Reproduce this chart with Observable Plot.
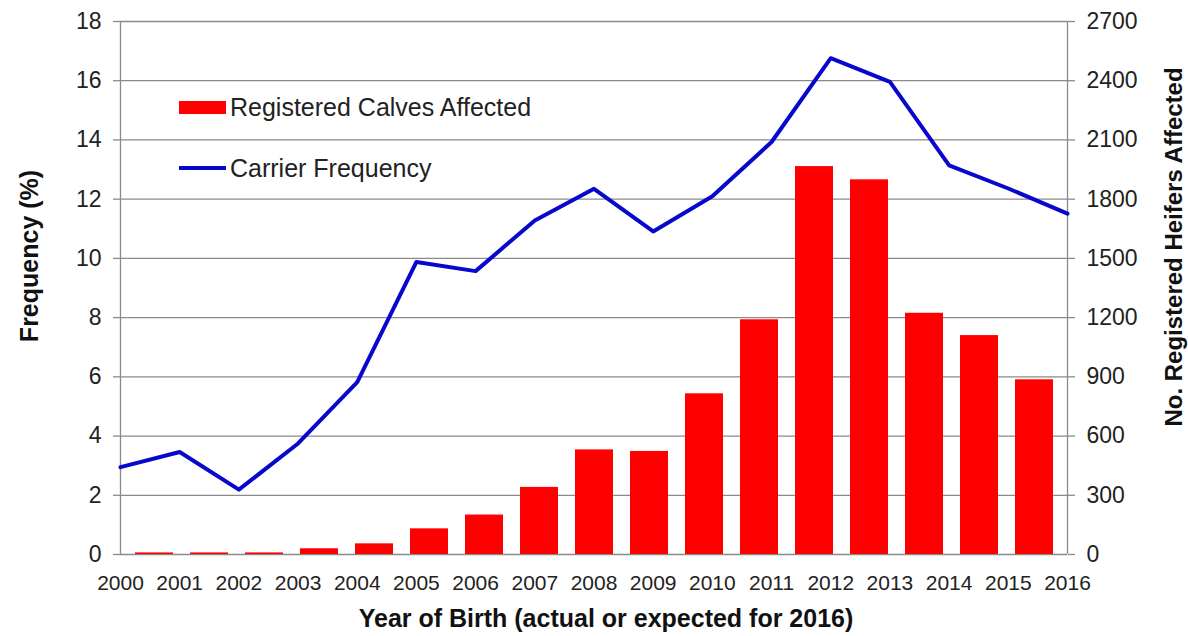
<!DOCTYPE html>
<html>
<head>
<meta charset="utf-8">
<script src="https://cdn.jsdelivr.net/npm/d3@7"></script>
<script src="https://cdn.jsdelivr.net/npm/@observablehq/plot@0.6"></script>
<style>
  body { margin: 0; background: #fff; }
  #chart { position: relative; width: 1188px; height: 636px; font-family: "Liberation Sans", Arial, sans-serif; overflow: hidden; }
  #chart svg { position: absolute; left: 0; top: 0; }
  .legend-item { position: absolute; display: flex; align-items: center; font-size: 25px; color: #222; white-space: nowrap; }
  .title { position: absolute; font-weight: bold; font-size: 25px; line-height: 1; color: #111; white-space: nowrap; transform: translate(-50%, -50%); }
  .title.rot { transform: translate(-50%, -50%) rotate(-90deg); }
</style>
</head>
<body>
<div id="chart"></div>
<script>
// Year of birth
const years = [2000, 2001, 2002, 2003, 2004, 2005, 2006, 2007, 2008,
               2009, 2010, 2011, 2012, 2013, 2014, 2015, 2016];
// Registered heifers affected (right axis)
const heifers = [8, 8, 8, 29, 54, 130, 200, 340, 530,
                 522, 814, 1189, 1965, 1898, 1222, 1109, 885];
// Carrier frequency, % (left axis)
const carrier = [2.95, 3.46, 2.19, 3.75, 5.82, 9.88, 9.57, 11.28, 12.35,
                 10.91, 12.1, 13.93, 16.76, 15.96, 13.14, 12.36, 11.51];
// Axis ticks
const freqTicks = [0, 2, 4, 6, 8, 10, 12, 14, 16, 18];
const heiferTicks = [0, 300, 600, 900, 1200, 1500, 1800, 2100, 2400, 2700];

const rows = years.map((year, i) => ({year, heifers: heifers[i], carrier: carrier[i]}));

const frame = {
  width: 1188, height: 636,
  marginLeft: 120, marginRight: 121, marginTop: 21, marginBottom: 82
};
const font = "'Liberation Sans', Arial, sans-serif";
const grid = "#8a8a8a";

// Bars: one band per birth year, measured on the right-hand axis
const bars = Plot.plot({
  ...frame,
  style: {fontFamily: font, fontSize: "23px", color: "#222", background: "transparent"},
  x: {type: "band", domain: years, paddingInner: 0.31, paddingOuter: 0.155, axis: null},
  y: {domain: [0, 2700], axis: null},
  marks: [
    Plot.gridY(heiferTicks, {stroke: grid, strokeOpacity: 1, strokeWidth: 1.3}),
    Plot.barY(rows, {x: "year", y: "heifers", fill: "#ff0000"}),
    Plot.axisY(heiferTicks, {anchor: "right", tickSize: 7, tickPadding: 12, label: null,
      tickFormat: d => String(d),
      stroke: grid, strokeOpacity: 1, strokeWidth: 1.3, fill: "#222", fontSize: 23})
  ]
});

// Carrier frequency line on a continuous year axis, measured on the left-hand axis
const line = Plot.plot({
  ...frame,
  style: {fontFamily: font, fontSize: "23px", color: "#222", background: "transparent"},
  x: {domain: [2000, 2016], axis: null},
  y: {domain: [0, 18], axis: null},
  marks: [
    Plot.ruleX([2000, 2016], {stroke: grid, strokeWidth: 1.3}),
    Plot.line(rows, {x: "year", y: "carrier", stroke: "#0808cc", strokeWidth: 4, strokeLinejoin: "round"}),
    Plot.axisY(freqTicks, {anchor: "left", tickSize: 7, tickPadding: 12, label: null,
      stroke: grid, strokeOpacity: 1, strokeWidth: 1.3, fill: "#222", fontSize: 23}),
    Plot.axisX(years, {anchor: "bottom", tickSize: 0, tickPadding: 21, label: null,
      tickFormat: d => String(d), fill: "#222", fontSize: 21})
  ]
});

const chart = document.getElementById("chart");
chart.append(bars, line);

// Legend
const legend = [
  {label: "Registered Calves Affected", top: 107, swatch: "background:#ff0000;height:13px;"},
  {label: "Carrier Frequency", top: 168, swatch: "background:#0808cc;height:4px;"}
];
for (const item of legend) {
  const div = document.createElement("div");
  div.className = "legend-item";
  div.style.left = "179px";
  div.style.top = (item.top - 15) + "px";
  div.style.height = "30px";
  div.innerHTML = `<span style="display:inline-block;width:47px;margin-right:4px;${item.swatch}"></span><span>${item.label}</span>`;
  chart.append(div);
}

// Axis titles
const titles = [
  {text: "Year of Birth (actual or expected for 2016)", x: 606, y: 618, rot: false, size: 25},
  {text: "Frequency (%)", x: 29, y: 256, rot: true, size: 25},
  {text: "No. Registered Heifers Affected", x: 1174, y: 247, rot: true, size: 24}
];
for (const t of titles) {
  const div = document.createElement("div");
  div.className = "title" + (t.rot ? " rot" : "");
  div.style.left = t.x + "px";
  div.style.top = t.y + "px";
  div.style.fontSize = t.size + "px";
  div.textContent = t.text;
  chart.append(div);
}
</script>
</body>
</html>
